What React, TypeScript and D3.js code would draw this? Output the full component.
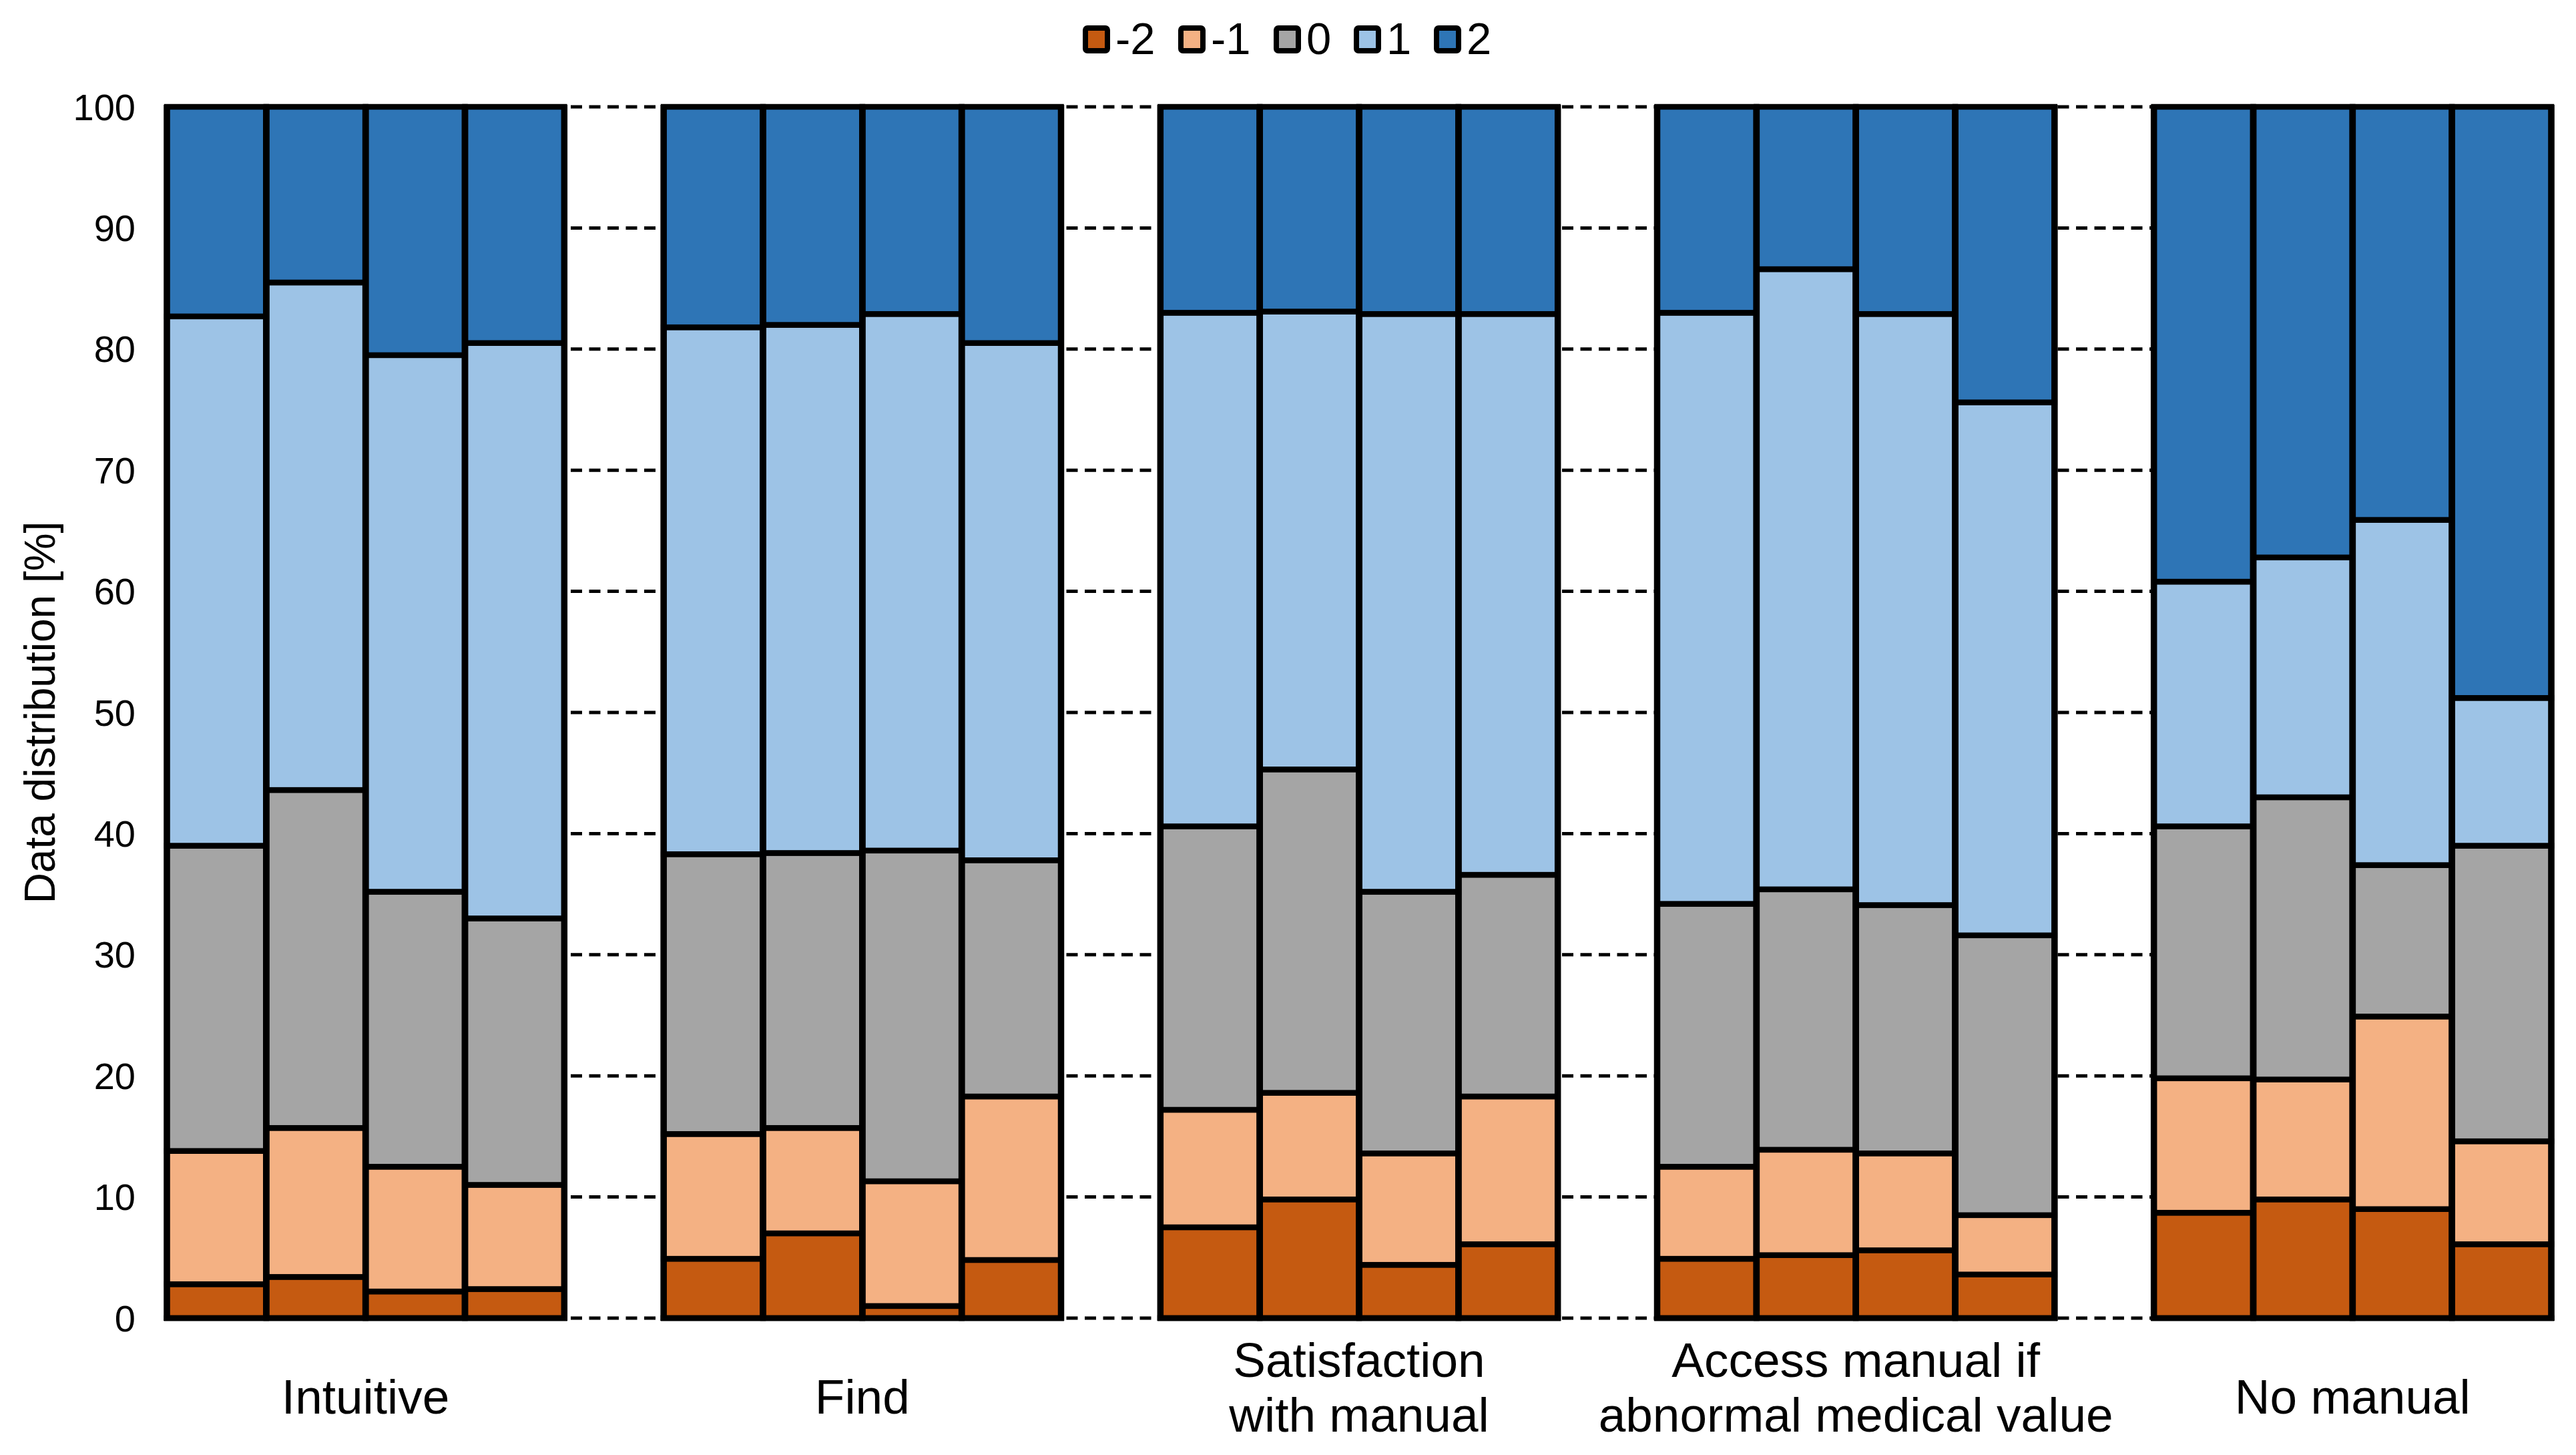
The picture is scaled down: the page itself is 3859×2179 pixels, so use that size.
import { scaleBand, scaleLinear, stack } from "d3";
import { useMemo } from "react";

const groups = [
  ["Intuitive"],
  ["Find"],
  ["Satisfaction", "with manual"],
  ["Access manual if", "abnormal medical value"],
  ["No manual"]
];
const barsPerGroup = 4;
const levels = ["-2", "-1", "0", "1", "2"];
const levelColors = ["#C55A11", "#F4B183", "#A5A5A5", "#9DC3E6", "#2E75B6"];
const yTicks = [0, 10, 20, 30, 40, 50, 60, 70, 80, 90, 100];

// share of answers per level, 4 bars per group, left to right
const neg2 = [2.8, 3.4, 2.2, 2.4, 4.9, 7.0, 1.0, 4.8, 7.5, 9.8, 4.4, 6.1, 4.9, 5.2, 5.6, 3.6, 8.7, 9.8, 9.0, 6.1];
const neg1 = [11.0, 12.3, 10.3, 8.6, 10.3, 8.7, 10.3, 13.5, 9.7, 8.8, 9.2, 12.2, 7.6, 8.7, 8.0, 4.9, 11.1, 9.9, 15.9, 8.5];
const zero = [25.2, 27.9, 22.7, 22.0, 23.1, 22.7, 27.3, 19.5, 23.4, 26.7, 21.6, 18.3, 21.7, 21.5, 20.5, 23.1, 20.8, 23.3, 12.5, 24.4];
const pos1 = [43.7, 41.9, 44.3, 47.5, 43.5, 43.6, 44.3, 42.7, 42.4, 37.8, 47.7, 46.3, 48.8, 51.2, 48.8, 44.0, 20.2, 19.8, 28.5, 12.2];
const pos2 = [17.3, 14.5, 20.5, 19.5, 18.2, 18.0, 17.1, 19.5, 17.0, 16.9, 17.1, 17.1, 17.0, 13.4, 17.1, 24.4, 39.2, 37.2, 34.1, 48.8];

const width = 3859;
const height = 2179;
const plotLeft = 250;
const plotRight = 3822;
const plotTop = 160;
const plotBottom = 1974;
const font = "'Liberation Sans', Arial, sans-serif";

function App() {
  const rows = useMemo(
    () =>
      neg2.map((_, i) => ({
        "-2": neg2[i],
        "-1": neg1[i],
        "0": zero[i],
        "1": pos1[i],
        "2": pos2[i]
      })),
    []
  );
  const series = useMemo(() => stack<any>().keys(levels)(rows), [rows]);

  const groupIdx = groups.map((_, i) => i);
  const xGroup = scaleBand<number>()
    .domain(groupIdx)
    .range([plotLeft, plotRight])
    .paddingInner(0.2)
    .paddingOuter(0);
  const xBar = scaleBand<number>()
    .domain([0, 1, 2, 3])
    .range([0, xGroup.bandwidth()])
    .padding(0);
  const y = scaleLinear().domain([0, 100]).range([plotBottom, plotTop]);

  const barX = (i: number) =>
    (xGroup(Math.floor(i / barsPerGroup)) ?? 0) + (xBar(i % barsPerGroup) ?? 0);

  // legend layout
  const legendFont = 67;
  const swStroke = 8;
  const swW = 33;
  const swH = 34;
  let lx = 1622;
  const legendItems = levels.map((lv, i) => {
    const item = { lv, i, x: lx };
    const tw = lv.length === 2 ? 60 : 37;
    lx += 49 + tw + 34;
    return item;
  });

  return (
    <svg
      width={width}
      height={height}
      style={{ position: "absolute", left: 0, top: 0, background: "#fff" }}
      fontFamily={font}
    >
      {/* dashed grid */}
      {yTicks.map((t) => (
        <line
          key={`g-${t}`}
          x1={plotLeft}
          x2={plotRight}
          y1={y(t)}
          y2={y(t)}
          stroke="#000"
          strokeWidth={5}
          strokeDasharray="17 10.5"
        />
      ))}
      {/* tick labels */}
      {yTicks.map((t) => (
        <text
          key={`t-${t}`}
          x={203}
          y={y(t)}
          textAnchor="end"
          dominantBaseline="central"
          fontSize={56}
        >
          {t}
        </text>
      ))}
      <text
        transform={`translate(82, ${(plotTop + plotBottom) / 2}) rotate(-90)`}
        textAnchor="middle"
        fontSize={64}
      >
        Data distribution [%]
      </text>

      {/* stacked segments */}
      {series.map((s, si) =>
        s.map((d, i) => (
          <rect
            key={`${si}-${i}`}
            x={barX(i)}
            y={y(d[1])}
            width={xBar.bandwidth()}
            height={y(d[0]) - y(d[1])}
            fill={levelColors[si]}
            stroke="#000"
            strokeWidth={8.5}
          />
        ))
      )}
      {/* bar edges */}
      {neg2.map((_, i) => (
        <g key={`e-${i}`}>
          {[barX(i), barX(i) + xBar.bandwidth()].map((ex, k) => (
            <line
              key={k}
              x1={ex}
              x2={ex}
              y1={y(100) - 3}
              y2={y(0) + 4}
              stroke="#000"
              strokeWidth={9.5}
            />
          ))}
        </g>
      ))}
      {groupIdx.map((g) => (
        <line
          key={`b-${g}`}
          x1={(xGroup(g) ?? 0) - 4.5}
          x2={(xGroup(g) ?? 0) + xGroup.bandwidth() + 4.5}
          y1={y(0)}
          y2={y(0)}
          stroke="#000"
          strokeWidth={8.5}
        />
      ))}

      {/* category labels */}
      {groups.map((lines, g) => {
        const cx = (xGroup(g) ?? 0) + xGroup.bandwidth() / 2;
        const baselines = lines.length === 1 ? [2117] : [2062, 2144];
        return lines.map((ln, li) => (
          <text
            key={`c-${g}-${li}`}
            x={cx}
            y={baselines[li]}
            textAnchor="middle"
            fontSize={73}
          >
            {ln}
          </text>
        ));
      })}

      {/* legend */}
      {legendItems.map((it) => (
        <g key={`l-${it.lv}`}>
          <rect
            x={it.x + swStroke / 2}
            y={38 + swStroke / 2}
            width={swW}
            height={swH}
            rx={3}
            fill={levelColors[it.i]}
            stroke="#000"
            strokeWidth={swStroke}
          />
          <text x={it.x + 49} y={81} fontSize={legendFont}>
            {it.lv}
          </text>
        </g>
      ))}
    </svg>
  );
}

export default App;
